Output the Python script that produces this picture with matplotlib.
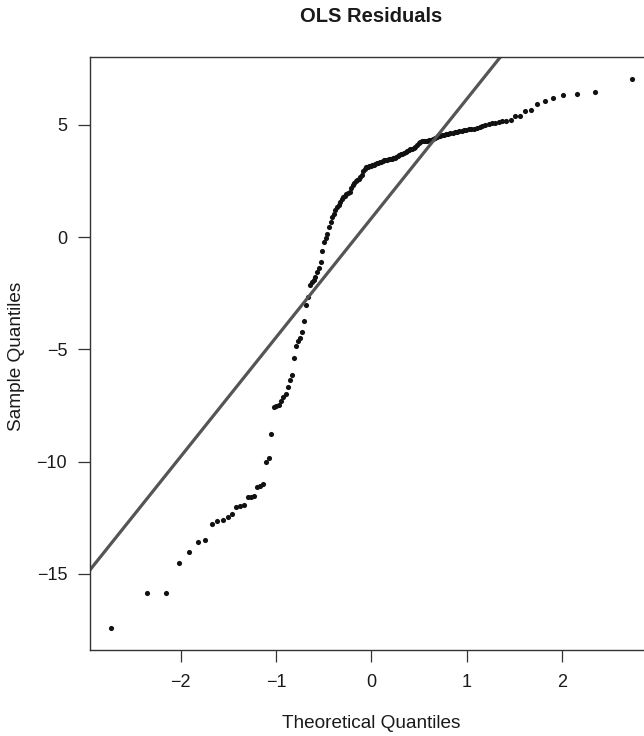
import numpy as np
import matplotlib
matplotlib.use('Agg')
import matplotlib.pyplot as plt
from statistics import NormalDist

plt.rcParams['font.family'] = ['Liberation Sans', 'DejaVu Sans']

## Sorted OLS residuals (sample quantiles) ##
residuals_low = [-17.41, -15.87, -15.85, -14.53, -14.01, -13.58, -13.51, -12.78,
                 -12.64, -12.60, -12.45, -12.33, -12.02, -11.99, -11.93, -11.57,
                 -11.56, -11.53, -11.15, -11.09, -11.00, -10.02, -9.84, -8.79]
residuals_steep = [-7.56, -7.53, -7.46, -7.29, -7.11, -6.98, -6.66, -6.35,
                   -6.13, -5.37, -4.84, -4.62, -4.48, -4.22, -3.73, -3.01,
                   -2.65, -2.12, -1.99, -1.90, -1.77, -1.55, -1.37, -1.10,
                   -0.61, -0.21, -0.03, 0.15, 0.46, 0.68, 0.90, 1.04,
                   1.22, 1.35, 1.42, 1.57, 1.71, 1.79, 1.84, 1.91,
                   1.97, 2.02, 2.19, 2.30, 2.42, 2.48, 2.54, 2.60,
                   2.67, 2.78, 2.93]
residuals_flat = [3.05, 3.10, 3.13, 3.16, 3.18, 3.20, 3.23, 3.26,
                  3.29, 3.31, 3.34, 3.36, 3.39, 3.41, 3.43, 3.44,
                  3.46, 3.47, 3.49, 3.51, 3.53, 3.55, 3.59, 3.64,
                  3.68, 3.71, 3.75, 3.78, 3.82, 3.86, 3.90, 3.94,
                  3.98, 4.02, 4.10, 4.18, 4.24, 4.26, 4.27, 4.28,
                  4.29, 4.31, 4.34, 4.36, 4.40, 4.45, 4.48, 4.50,
                  4.53, 4.56, 4.60, 4.61, 4.63, 4.65, 4.67, 4.70,
                  4.72, 4.74, 4.76, 4.78, 4.79, 4.80, 4.82, 4.85,
                  4.91, 4.95, 4.98, 5.02, 5.06, 5.10, 5.12, 5.15,
                  5.18, 5.20]
residuals_top = [5.39, 5.41, 5.63, 5.67, 5.91, 6.07, 6.21, 6.32, 6.36, 6.48, 7.04]

sample = np.sort(np.array(residuals_low + residuals_steep + residuals_flat + residuals_top))
n = len(sample)

## Theoretical quantiles (R's ppoints / qnorm) ##
probs = (np.arange(1, n + 1) - 0.5) / n
theoretical = np.array([NormalDist().inv_cdf(p) for p in probs])

## qqline through the quartiles ##
q_y = np.quantile(sample, [0.25, 0.75])
q_x = np.array([NormalDist().inv_cdf(0.25), NormalDist().inv_cdf(0.75)])
slope = (q_y[1] - q_y[0]) / (q_x[1] - q_x[0])
intercept = q_y[0] - slope * q_x[0]

## Plotting ##
W, H = 644, 736
fig = plt.figure(figsize=(W / 100, H / 100), dpi=100)
left_px, right_px, top_px, bottom_px = 90, 652.7, 57, 650
ax = fig.add_axes([left_px / W, 1 - bottom_px / H,
                   (right_px - left_px) / W, (bottom_px - top_px) / H])

ax.plot(theoretical, sample, 'o', color='#111111', markersize=3.7, markeredgewidth=0)
ax.axline((0, intercept), slope=slope, color='#555555', linewidth=2.3)

# R style 4% padding
xr = theoretical.max() - theoretical.min()
yr = sample.max() - sample.min()
ax.set_xlim(theoretical.min() - 0.04 * xr, theoretical.max() + 0.04 * xr)
ax.set_ylim(sample.min() - 0.04 * yr, sample.max() + 0.04 * yr)

ax.set_xticks([-2, -1, 0, 1, 2])
ax.set_yticks([-15, -10, -5, 0, 5])
ax.tick_params(axis='both', direction='out', length=8.4, width=0.9,
               color='#333333', labelsize=13, labelcolor='#1a1a1a')
ax.tick_params(axis='x', pad=9)
ax.tick_params(axis='y', pad=8)
for side in ['left', 'bottom', 'top', 'right']:
    ax.spines[side].set_color('#333333')
    ax.spines[side].set_linewidth(1.0)

fig.text(371.3 / W, 1 - 17 / H, 'OLS Residuals', ha='center', va='center',
         fontsize=14.5, fontweight='bold', color='#1a1a1a')
fig.text(371.3 / W, 1 - 723 / H, 'Theoretical Quantiles', ha='center', va='center',
         fontsize=13.7, color='#1a1a1a')
fig.text(17 / W, 1 - 356 / H, 'Sample Quantiles', ha='center', va='center',
         rotation=90, fontsize=13.7, color='#1a1a1a')

fig.savefig('out.png', dpi=100)
